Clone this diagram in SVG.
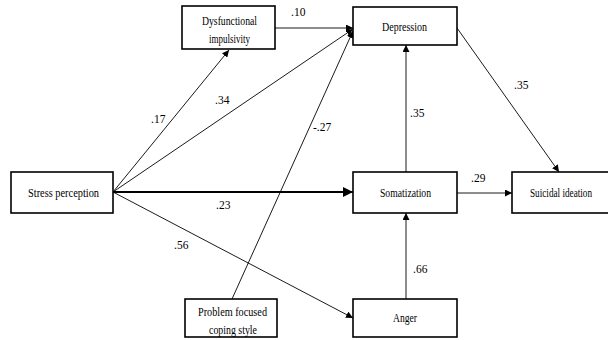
<svg xmlns="http://www.w3.org/2000/svg" width="608" height="340" viewBox="0 0 608 340">
<defs>
<marker id="ah" viewBox="0 0 10 10" refX="10" refY="5" markerWidth="7" markerHeight="7" markerUnits="userSpaceOnUse" orient="auto">
<path d="M0,0 L10,5 L0,10 z" fill="#000"/>
</marker>
<marker id="ah2" viewBox="0 0 10 10" refX="10" refY="5" markerWidth="5" markerHeight="5" orient="auto">
<path d="M0,0 L10,5 L0,10 z" fill="#000"/>
</marker>
</defs>
<style>
.box{fill:#fff;stroke:#000;stroke-width:1.6}
.c{fill:none;stroke:#000;stroke-width:0.9;marker-end:url(#ah)}
.thick{fill:none;stroke:#000;stroke-width:2;marker-end:url(#ah2)}
</style>
<rect width="608" height="340" fill="#fff"/>
<g id="connectors">
<line class="c" x1="113" y1="192" x2="229" y2="50"/>
<line class="c" x1="113" y1="192" x2="353" y2="29"/>
<line class="c" x1="275" y1="28" x2="353" y2="28"/>
<line class="thick" x1="113" y1="192" x2="353" y2="192"/>
<line class="c" x1="113" y1="192" x2="353" y2="318"/>
<line class="c" x1="232" y1="299" x2="353" y2="31"/>
<line class="c" x1="406" y1="172" x2="406" y2="45"/>
<line class="c" x1="406" y1="299" x2="406" y2="213"/>
<line class="c" x1="457" y1="193" x2="512" y2="193"/>
<line class="c" x1="457" y1="28" x2="559" y2="172"/>
<g font-family="Liberation Serif" font-size="11.5" fill="#000">
<text x="291" y="16">.10</text>
<text x="151" y="123">.17</text>
<text x="215" y="104">.34</text>
<text x="313" y="131">-.27</text>
<text x="410" y="117">.35</text>
<text x="514" y="89">.35</text>
<text x="216" y="209">.23</text>
<text x="174" y="249">.56</text>
<text x="471" y="182">.29</text>
<text x="413" y="273">.66</text>
</g>
</g>
<g font-family="Liberation Serif" font-size="12" fill="#000" text-anchor="middle">
<g id="stress"><rect class="box" x="11" y="172" width="102" height="41"/><text x="63.5" y="197" textLength="71" lengthAdjust="spacingAndGlyphs">Stress perception</text></g>
<g id="dysfunctional"><rect class="box" x="182" y="6" width="93" height="43"/><text x="229.5" y="25" textLength="55" lengthAdjust="spacingAndGlyphs">Dysfunctional</text><text x="229.5" y="43" textLength="41" lengthAdjust="spacingAndGlyphs">impulsivity</text></g>
<g id="depression"><rect class="box" x="353" y="7" width="104" height="38"/><text x="404.5" y="31" textLength="45" lengthAdjust="spacingAndGlyphs">Depression</text></g>
<g id="somatization"><rect class="box" x="353" y="172" width="104" height="41"/><text x="405.5" y="197" textLength="51" lengthAdjust="spacingAndGlyphs">Somatization</text></g>
<g id="suicidal"><rect class="box" x="512" y="172" width="100" height="41"/><text x="561" y="197" textLength="62" lengthAdjust="spacingAndGlyphs">Suicidal ideation</text></g>
<g id="problem"><rect class="box" x="185" y="299" width="92" height="38"/><text x="232.5" y="316" textLength="69" lengthAdjust="spacingAndGlyphs">Problem focused</text><text x="233" y="334" textLength="48" lengthAdjust="spacingAndGlyphs">coping style</text></g>
<g id="anger"><rect class="box" x="353" y="299" width="104" height="38"/><text x="405" y="322" textLength="24" lengthAdjust="spacingAndGlyphs">Anger</text></g>
</g>
</svg>
